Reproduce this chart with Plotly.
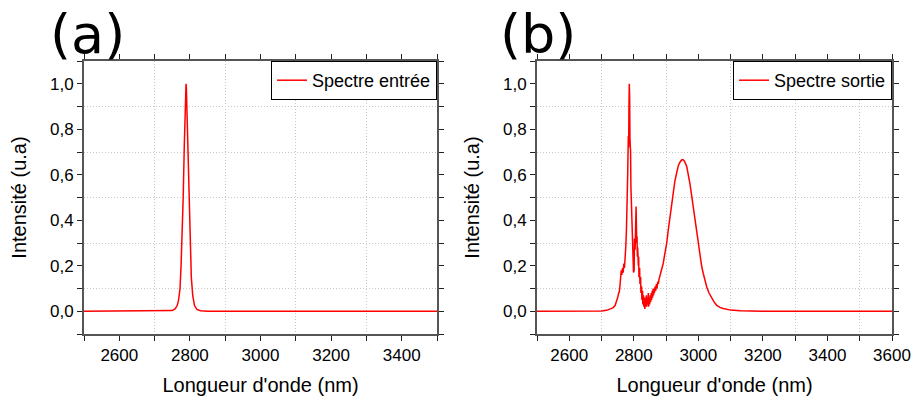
import plotly.graph_objects as go

# ---- data ----
wl_in = [2500, 2700, 2740, 2750, 2758, 2764, 2768, 2772, 2775, 2778, 2781, 2784, 2786,
         2788, 2789, 2790, 2792, 2794, 2796, 2798, 2801, 2804, 2808, 2813, 2820, 2830,
         2850, 3500]
int_in = [0, 0, 0.001, 0.003, 0.01, 0.025, 0.05, 0.1, 0.2, 0.33, 0.5, 0.72, 0.86,
          0.97, 1.0, 0.98, 0.87, 0.72, 0.58, 0.45, 0.28, 0.15, 0.07, 0.025, 0.008, 0.002,
          0, 0]

wl_out = [2500, 2600, 2680, 2700, 2715, 2725, 2735, 2742, 2747, 2750, 2753, 2755, 2757,
          2759, 2761, 2763, 2765, 2767, 2769, 2771, 2773, 2775, 2777, 2779, 2781, 2783,
          2784, 2785, 2786, 2787, 2788, 2790, 2791, 2793, 2795, 2797, 2799, 2801, 2802,
          2804, 2806, 2807, 2808, 2809, 2810, 2811, 2812, 2814, 2815, 2816, 2818, 2819,
          2821, 2822, 2824, 2825, 2827, 2828, 2830, 2831, 2833, 2834, 2836, 2837, 2839,
          2840, 2842, 2843, 2845, 2846, 2848, 2849, 2851, 2852, 2854, 2855, 2857, 2858,
          2860, 2861, 2863, 2864, 2866, 2868, 2870, 2872, 2874, 2876, 2878, 2880, 2885,
          2891, 2897, 2902, 2907, 2912, 2917, 2922, 2927, 2933, 2938, 2943, 2948, 2952,
          2957, 2964, 2969, 2974, 2979, 2984, 2990, 2995, 3000, 3005, 3010, 3015, 3020,
          3026, 3033, 3041, 3049, 3057, 3067, 3077, 3090, 3100, 3130, 3160, 3200, 3600]
int_out = [0, 0, 0, 0.001, 0.004, 0.008, 0.015, 0.025, 0.045, 0.06, 0.08, 0.085, 0.11,
           0.14, 0.18, 0.16, 0.19, 0.17, 0.21, 0.19, 0.22, 0.28, 0.35, 0.45, 0.6, 0.77,
           0.72, 0.9, 1.0, 0.95, 0.76, 0.7, 0.55, 0.45, 0.33, 0.26, 0.17, 0.18, 0.32,
           0.27, 0.4, 0.46, 0.38, 0.3, 0.33, 0.24, 0.28, 0.2, 0.24, 0.15, 0.19, 0.12,
           0.15, 0.08, 0.11, 0.05, 0.09, 0.03, 0.07, 0.02, 0.06, 0.01, 0.05, 0.03, 0.07,
           0.02, 0.06, 0.03, 0.08, 0.02, 0.06, 0.03, 0.07, 0.04, 0.08, 0.05, 0.09, 0.06,
           0.1, 0.07, 0.1, 0.08, 0.11, 0.09, 0.12, 0.1, 0.13, 0.12, 0.14, 0.15, 0.17,
           0.21, 0.26, 0.30, 0.36, 0.415, 0.47, 0.52, 0.57, 0.61, 0.64, 0.655, 0.665, 0.667,
           0.66, 0.636, 0.6, 0.56, 0.51, 0.46, 0.40, 0.34, 0.29, 0.24, 0.20, 0.167, 0.135,
           0.107, 0.08, 0.057, 0.04, 0.026, 0.017, 0.012, 0.007, 0.005, 0.002, 0.001, 0, 0]

name_in = "Spectre entrée"
name_out = "Spectre sortie"
x_title = "Longueur d'onde (nm)"
y_title = "Intensité (u.a)"
panel_labels = ["(a)", "(b)"]

# ---- figure ----
W, H = 911, 396
fig = go.Figure()
fig.add_trace(go.Scatter(x=wl_in, y=int_in, mode="lines", name=name_in,
                         line=dict(color="#ff0000", width=1.5), showlegend=True,
                         xaxis="x", yaxis="y", legend="legend"))
fig.add_trace(go.Scatter(x=wl_out, y=int_out, mode="lines", name=name_out,
                         line=dict(color="#ff0000", width=1.5), showlegend=True,
                         xaxis="x2", yaxis="y2", legend="legend2"))

tickfont = dict(family="Liberation Sans, Arial", size=17, color="black")
titlefont = dict(family="Liberation Sans, Arial", size=20, color="black")
axis_line = "#555555"
tick_col = "#222222"
grid_col = "#c8c8c8"

def xaxis(rng, dom, anchor):
    return dict(domain=dom, anchor=anchor, range=rng, tickmode="linear",
                tick0=2600, dtick=200, ticks="outside", ticklen=5, tickwidth=1.2,
                tickcolor=tick_col, showline=True, linecolor=axis_line, linewidth=2,
                mirror="ticks", showgrid=False, zeroline=False, tickfont=tickfont,
                automargin=False,
                title=dict(text=x_title, font=titlefont, standoff=14),
                minor=dict(dtick=100, tick0=2500, ticks="outside", ticklen=5,
                           tickcolor=tick_col, showgrid=True, gridcolor=grid_col,
                           griddash="1px,2px", gridwidth=1))

def yaxis(dom, anchor):
    return dict(domain=dom, anchor=anchor, range=[-0.1, 1.1], tickmode="linear",
                tick0=0, dtick=0.2, tickformat=".1f", ticks="outside", ticklen=5,
                tickwidth=1.2, tickcolor=tick_col, showline=True, linecolor=axis_line,
                linewidth=2, mirror="ticks", showgrid=False, zeroline=False,
                automargin=False,
                tickfont=tickfont, title=dict(text=y_title, font=titlefont, standoff=18),
                minor=dict(dtick=0.1, tick0=-0.1, ticks="outside", ticklen=5,
                           tickcolor=tick_col, showgrid=True, gridcolor=grid_col,
                           griddash="1px,2px", gridwidth=1))

ydom = [(H - 334) / H, (H - 61) / H]
xa = [84 / W, 437 / W]
xb = [537 / W, 892 / W]

legend_common = dict(bordercolor="black", borderwidth=1, bgcolor="white",
                     font=dict(family="Liberation Sans, Arial", size=18, color="black"),
                     yanchor="top", xanchor="right", y=ydom[1],
                     tracegroupgap=0, itemwidth=30)

fig.update_layout(
    width=W, height=H, margin=dict(l=0, r=0, t=0, b=0, autoexpand=False),
    paper_bgcolor="white", plot_bgcolor="white",
    separators=", ", showlegend=True,
    xaxis=xaxis([2500, 3500], xa, "y"),
    yaxis=yaxis(ydom, "x"),
    xaxis2=xaxis([2500, 3600], xb, "y2"),
    yaxis2=yaxis(ydom, "x2"),
    legend=dict(x=xa[1], **legend_common),
    legend2=dict(x=xb[1], **legend_common),
    annotations=[
        dict(text=panel_labels[0], x=48 / W, y=1 - 34 / H, xref="paper", yref="paper",
             xanchor="left", yanchor="middle", showarrow=False,
             font=dict(family="DejaVu Sans", size=54, color="black")),
        dict(text=panel_labels[1], x=498 / W, y=1 - 34 / H, xref="paper", yref="paper",
             xanchor="left", yanchor="middle", showarrow=False,
             font=dict(family="DejaVu Sans", size=54, color="black")),
    ],
)

fig.write_html("out.html", config={"displayModeBar": False},
               post_script="document.body.style.margin='0';document.body.style.overflow='hidden';")
